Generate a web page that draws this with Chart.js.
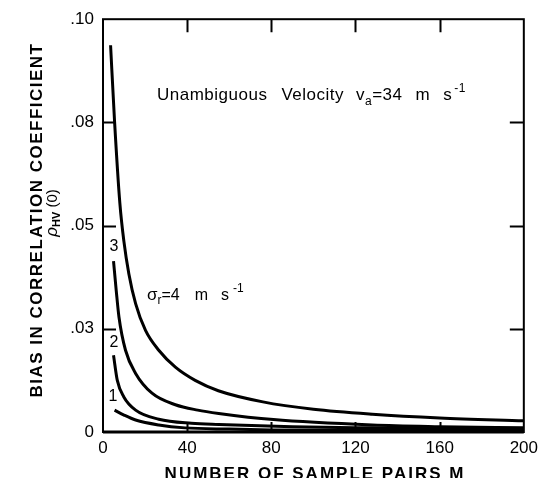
<!DOCTYPE html>
<html>
<head>
<meta charset="utf-8">
<script src="https://cdn.jsdelivr.net/npm/chart.js@4.4.1/dist/chart.umd.min.js"></script>
<style>
	html, body { margin: 0; padding: 0; background: #fff; }
	#wrap { width: 544px; height: 478px; position: relative; }
</style>
</head>
<body>
<div id="wrap"><canvas id="biasChart"></canvas></div>
<script>
// number of sample pairs M (x) and bias in rho_hv(0) (y), one pair of arrays per curve
var sigma4M    = [3.6, 5.5, 8, 9.9, 12.3, 15.5, 20.2, 26.5, 34.4, 43.8, 54.8, 76, 100, 128, 160, 200];
var sigma4Bias = [0.0937, 0.0752, 0.0555, 0.0463, 0.0383, 0.0311, 0.0246, 0.0198, 0.0157, 0.0125, 0.0100, 0.0073, 0.0055, 0.0043, 0.0034, 0.0027];

var sigma3M    = [5, 6.3, 7.6, 10.7, 15.5, 23.3, 34.4, 45, 55, 81, 128, 160, 200];
var sigma3Bias = [0.0414, 0.0342, 0.0278, 0.0198, 0.0142, 0.0094, 0.0066, 0.0053, 0.0045, 0.0030, 0.0017, 0.0013, 0.0010];

var sigma2M    = [5, 6.8, 9.9, 15.5, 26.5, 42, 55, 90, 128, 160, 200];
var sigma2Bias = [0.0186, 0.0125, 0.0085, 0.0053, 0.0031, 0.0021, 0.0018, 0.0013, 0.0010, 0.0008, 0.0007];

var sigma1M    = [5.5, 10, 15.5, 26.5, 39, 60, 80, 120, 160, 200];
var sigma1Bias = [0.0053, 0.0041, 0.0029, 0.0017, 0.0010, 0.0007, 0.0005, 0.0004, 0.0003, 0.0002];

// axis ticks as printed on the figure
var xTickValues = [0, 40, 80, 120, 160, 200];
var yTickValues = [0, 0.025, 0.05, 0.075, 0.10];
var yTickLabels = ['0', '.03', '.05', '.08', '.10'];

var FONT = '"Liberation Sans", Arial, Helvetica, sans-serif';

function toPoints(xs, ys) {
	var pts = [];
	for (var i = 0; i < xs.length; i++) pts.push({x: xs[i], y: ys[i]});
	return pts;
}

function curve(label, xs, ys) {
	return {
		label: label,
		data: toPoints(xs, ys),
		borderColor: '#000',
		borderWidth: 3,
		pointRadius: 0,
		fill: false,
		cubicInterpolationMode: 'monotone'
	};
}

// draw a run of text pieces, each with its own font and vertical shift
function drawRun(ctx, x, y, pieces) {
	ctx.textAlign = 'left';
	ctx.textBaseline = 'alphabetic';
	pieces.forEach(function(p) {
		ctx.font = p.font;
		ctx.fillText(p.t, x, y + (p.dy || 0));
		x += ctx.measureText(p.t).width + (p.gap || 0);
	});
}

var decorPlugin = {
	id: 'decor',
	afterDraw: function(chart) {
		var ctx = chart.ctx;
		var a = chart.chartArea;
		var xs = chart.scales.x, ys = chart.scales.y;
		var hasSpacing = ('letterSpacing' in ctx);
		ctx.save();
		ctx.strokeStyle = '#000';
		ctx.fillStyle = '#000';

		// frame
		ctx.lineWidth = 2;
		ctx.strokeRect(a.left, a.top, a.right - a.left, a.bottom - a.top);
		ctx.lineWidth = 3;
		ctx.beginPath();
		ctx.moveTo(a.left, a.bottom);
		ctx.lineTo(a.right, a.bottom);
		ctx.stroke();

		// inward ticks on all four sides
		ctx.lineWidth = 2;
		ctx.beginPath();
		yTickValues.slice(1, -1).forEach(function(v) {
			var py = Math.round(ys.getPixelForValue(v)) + 0.5;
			ctx.moveTo(a.left, py); ctx.lineTo(a.left + 13, py);
			ctx.moveTo(a.right, py); ctx.lineTo(a.right - 14, py);
		});
		xTickValues.slice(1, -1).forEach(function(v) {
			var px = Math.round(xs.getPixelForValue(v)) + 0.5;
			ctx.moveTo(px, a.bottom); ctx.lineTo(px, a.bottom - 10);
			ctx.moveTo(px, a.top); ctx.lineTo(px, a.top + 13);
		});
		ctx.stroke();

		// y axis title, two lines, rotated
		ctx.save();
		ctx.translate(37, 220);
		ctx.rotate(-Math.PI / 2);
		ctx.textAlign = 'center';
		ctx.textBaseline = 'middle';
		ctx.font = 'bold 17px ' + FONT;
		if (hasSpacing) ctx.letterSpacing = '1.5px';
		ctx.fillText('BIAS IN CORRELATION COEFFICIENT', 0, 0);
		if (hasSpacing) ctx.letterSpacing = '0px';
		ctx.restore();

		ctx.save();
		ctx.translate(53, 213);
		ctx.rotate(-Math.PI / 2);
		ctx.font = 'italic 17px ' + FONT;
		var w1 = ctx.measureText('\u03C1').width;
		ctx.font = 'bold 11px ' + FONT;
		var w2 = ctx.measureText('HV').width;
		ctx.font = '15px ' + FONT;
		var w3 = ctx.measureText(' (0)').width;
		drawRun(ctx, -(w1 + w2 + w3) / 2, 4, [
			{t: '\u03C1', font: 'italic 17px ' + FONT},
			{t: 'HV', font: 'bold 11px ' + FONT, dy: 3},
			{t: ' (0)', font: '15px ' + FONT}
		]);
		ctx.restore();

		// x axis title
		ctx.textAlign = 'center';
		ctx.textBaseline = 'middle';
		ctx.font = 'bold 17px ' + FONT;
		if (hasSpacing) ctx.letterSpacing = '2px';
		ctx.fillText('NUMBER OF SAMPLE PAIRS M', 315, 474);
		if (hasSpacing) ctx.letterSpacing = '0px';

		// annotations
		var f = '17px ' + FONT, fs = '12px ' + FONT;
		if (hasSpacing) ctx.letterSpacing = '0.5px';
		drawRun(ctx, 157, 100, [
			{t: 'Unambiguous', font: f, gap: 14},
			{t: 'Velocity', font: f, gap: 12},
			{t: 'v', font: f},
			{t: 'a', font: fs, dy: 5},
			{t: '=34', font: f, gap: 13},
			{t: 'm', font: f, gap: 13},
			{t: 's', font: f, gap: 2},
			{t: '-1', font: fs, dy: -8}
		]);
		if (hasSpacing) ctx.letterSpacing = '0px';
		drawRun(ctx, 147, 300, [
			{t: '\u03C3', font: '17px ' + FONT},
			{t: 'r', font: fs, dy: 4},
			{t: '=4', font: '16px ' + FONT, gap: 15},
			{t: 'm', font: '16px ' + FONT, gap: 13},
			{t: 's', font: '16px ' + FONT, gap: 4},
			{t: '-1', font: fs, dy: -8}
		]);

		// curve numbers
		ctx.font = '16px ' + FONT;
		ctx.textAlign = 'center';
		ctx.textBaseline = 'middle';
		ctx.fillText('3', 114, 247);
		ctx.fillText('2', 114, 343);
		ctx.fillText('1', 113, 397);
		ctx.restore();
	}
};

var chart = new Chart(document.getElementById('biasChart').getContext('2d'), {
	type: 'line',
	data: {
		datasets: [
			curve('\u03C3r = 4 m s-1', sigma4M, sigma4Bias),
			curve('3', sigma3M, sigma3Bias),
			curve('2', sigma2M, sigma2Bias),
			curve('1', sigma1M, sigma1Bias)
		]
	},
	options: {
		responsive: true,
		maintainAspectRatio: false,
		animation: false,
		layout: {
			padding: {left: 0, right: 17, top: 17, bottom: 0}
		},
		plugins: {
			legend: { display: false },
			tooltip: { enabled: false }
		},
		scales: {
			x: {
				type: 'linear',
				min: 0,
				max: 200,
				afterBuildTicks: function(scale) {
					scale.ticks = xTickValues.map(function(v) { return {value: v}; });
				},
				afterFit: function(scale) { scale.height = 46; },
				grid: { display: false, drawTicks: false },
				border: { display: false },
				ticks: {
					color: '#000',
					padding: 6,
					maxRotation: 0,
					font: { family: FONT, size: 17 }
				}
			},
			y: {
				type: 'linear',
				min: 0,
				max: 0.10,
				afterBuildTicks: function(scale) {
					scale.ticks = yTickValues.map(function(v) { return {value: v}; });
				},
				afterFit: function(scale) { scale.width = 103; },
				grid: { display: false, drawTicks: false },
				border: { display: false },
				ticks: {
					color: '#000',
					padding: 9,
					font: { family: FONT, size: 17 },
					callback: function(value) {
						var i = yTickValues.indexOf(value);
						return i >= 0 ? yTickLabels[i] : '';
					}
				}
			}
		}
	},
	plugins: [decorPlugin]
});
</script>
</body>
</html>
